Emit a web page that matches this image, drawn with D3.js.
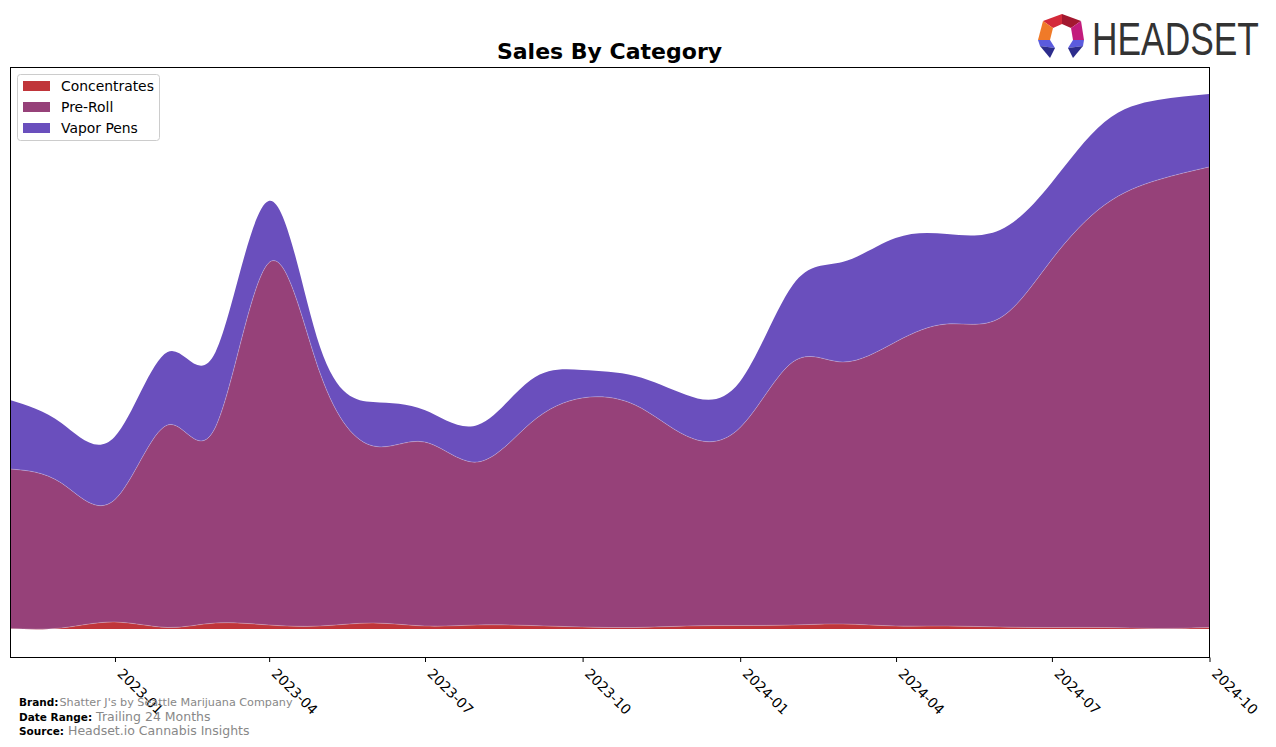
<!DOCTYPE html>
<html>
<head>
<meta charset="utf-8">
<script src="https://cdn.jsdelivr.net/npm/d3@7"></script>
<style>
  html, body { margin: 0; padding: 0; background: #fff; }
  svg { display: block; font-family: "DejaVu Sans", sans-serif; }
</style>
</head>
<body>
<svg id="chart" width="1276" height="747"></svg>
<script>
// ---- data ----
const months = ["2022-11","2022-12","2023-01","2023-02","2023-03","2023-04","2023-05","2023-06",
  "2023-07","2023-08","2023-09","2023-10","2023-11","2023-12","2024-01","2024-02","2024-03",
  "2024-04","2024-05","2024-06","2024-07","2024-08","2024-09","2024-10"];
const categories = ["Concentrates", "Pre-Roll", "Vapor Pens"];
const concentrates = [0.5, 1, 7, 1.5, 6, 4, 3, 6, 3, 4, 3.5, 2, 1.5, 3, 3.5, 4, 5, 3, 3, 2, 1.5, 1.5, 0.5, 1.5];
const preRoll = [159.5, 145, 122, 202.5, 196, 362, 253, 177, 184, 163, 202.5, 229, 222.5, 190, 197.5, 263, 262, 284, 302, 309, 367.5, 422.5, 448.5, 460.5];
const vaporPens = [69, 60, 63, 73, 75, 62, 26, 44, 32, 37, 43, 28, 29, 41, 46, 77, 100, 104, 90, 88, 77, 83, 80, 73];
const tickLabels = ["2023-01","2023-04","2023-07","2023-10","2024-01","2024-04","2024-07","2024-10"];
const colors = ["#C0353A", "#964179", "#6A4FBD"];

// ---- layout ----
const svg = d3.select("#chart");
const L = 10, R = 1209, T = 67, B = 657;
const parse = d3.timeParse("%Y-%m");
const rows = months.map((m, i) => ({
  date: parse(m),
  "Concentrates": concentrates[i],
  "Pre-Roll": preRoll[i],
  "Vapor Pens": vaporPens[i]
}));

const x = d3.scaleTime().domain([parse(months[0]), parse(months[months.length - 1])]).range([L, R]);
const y = d3.scaleLinear().domain([-28, 562]).range([B, T]);

const stack = d3.stack().keys(categories);
const series = stack(rows);

const area = d3.area()
  .x(d => x(d.data.date))
  .y0(d => y(d[0]))
  .y1(d => y(d[1]))
  .curve(d3.curveNatural);
const topLine = d3.line()
  .x(d => x(d.data.date))
  .y(d => y(d[1]))
  .curve(d3.curveNatural);

svg.append("clipPath").attr("id", "clip")
  .append("rect").attr("x", L).attr("y", T).attr("width", R - L).attr("height", B - T);

const g = svg.append("g").attr("clip-path", "url(#clip)");
series.forEach((s, i) => {
  g.append("path").attr("d", area(s)).attr("fill", colors[i]);
});
series.forEach((s, i) => {
  if (i < 2) g.append("path").attr("d", topLine(s)).attr("fill", "none")
    .attr("stroke", "rgba(255,255,255,0.35)").attr("stroke-width", 0.7);
});

// frame
svg.append("rect").attr("x", L + 0.5).attr("y", T + 0.5).attr("width", R - L).attr("height", B - T)
  .attr("fill", "none").attr("stroke", "#000").attr("stroke-width", 1);

// x axis
const xAxis = d3.axisBottom(x)
  .tickValues(tickLabels.map(parse))
  .tickFormat(d3.timeFormat("%Y-%m"))
  .tickSize(4.5).tickPadding(3);
const ax = svg.append("g").attr("transform", `translate(0.5,${B + 0.5})`).call(xAxis);
ax.select(".domain").remove();
ax.selectAll(".tick line").attr("stroke", "#000");
ax.selectAll(".tick text")
  .attr("font-family", "DejaVu Sans").attr("font-size", 13.9).attr("fill", "#000")
  .attr("text-anchor", "start").attr("dy", null)
  .attr("transform", "translate(1,17) rotate(45)")
  .attr("x", 0).attr("y", 0);

// title
svg.append("text").attr("x", (L + R) / 2).attr("y", 59).attr("text-anchor", "middle")
  .attr("font-family", "DejaVu Sans").attr("font-weight", "bold").attr("font-size", 22)
  .text("Sales By Category");

// legend
const lg = svg.append("g");
lg.append("rect").attr("x", 17.5).attr("y", 74.5).attr("width", 142).attr("height", 66)
  .attr("rx", 3).attr("fill", "#fff").attr("fill-opacity", 0.8).attr("stroke", "#ccc");
categories.forEach((c, i) => {
  const yy = 86 + i * 21;
  lg.append("rect").attr("x", 23).attr("y", yy - 5).attr("width", 27).attr("height", 10).attr("fill", colors[i]);
  lg.append("text").attr("x", 61).attr("y", yy + 5).attr("font-size", 13.9).attr("fill", "#000").text(c);
});

// footer
const foot = [
  ["Brand:", "Shatter J's by Seattle Marijuana Company", 706, 10.5, 11.2],
  ["Date Range:", "Trailing 24 Months", 721, 10.5, 12.5],
  ["Source:", "Headset.io Cannabis Insights", 735, 10.5, 12.5]
];
foot.forEach(([k, v, yy, fs1, fs2]) => {
  const t = svg.append("text").attr("x", 19).attr("y", yy);
  t.append("tspan").attr("font-weight", "bold").attr("font-size", fs1).attr("fill", "#000").text(k);
  t.append("tspan").attr("font-size", fs2).attr("fill", "#888").attr("dx", k === "Brand:" ? 1 : 4).text(v);
});

// logo
const logo = svg.append("g");
const facets = [
  [[1043,21],[1062,14],[1062,24],[1053,28], "#D42A3A"],
  [[1062,14],[1081,21],[1071,28],[1062,24], "#A3182F"],
  [[1043,21],[1053,28],[1050,40],[1038,40], "#F07A28"],
  [[1081,21],[1084,40],[1073,40],[1071,28], "#C21C7C"],
  [[1038,40],[1050,40],[1055,48],[1040,46], "#5B5BDE"],
  [[1040,46],[1055,48],[1050,58], "#2C2C8C"],
  [[1084,40],[1073,40],[1068,48],[1083,46], "#5B5BDE"],
  [[1083,46],[1068,48],[1073,58], "#2C2C8C"]
];
facets.forEach(f => {
  const col = f[f.length - 1];
  const pts = f.slice(0, -1).map(p => p.join(",")).join(" ");
  logo.append("polygon").attr("points", pts).attr("fill", col);
});
logo.append("text").attr("transform", "translate(1092,55) scale(0.752,1)")
  .attr("font-family", "Liberation Sans, Arial, sans-serif").attr("font-size", 47)
  .attr("fill", "#333")
  .text("HEADSET");
</script>
</body>
</html>
